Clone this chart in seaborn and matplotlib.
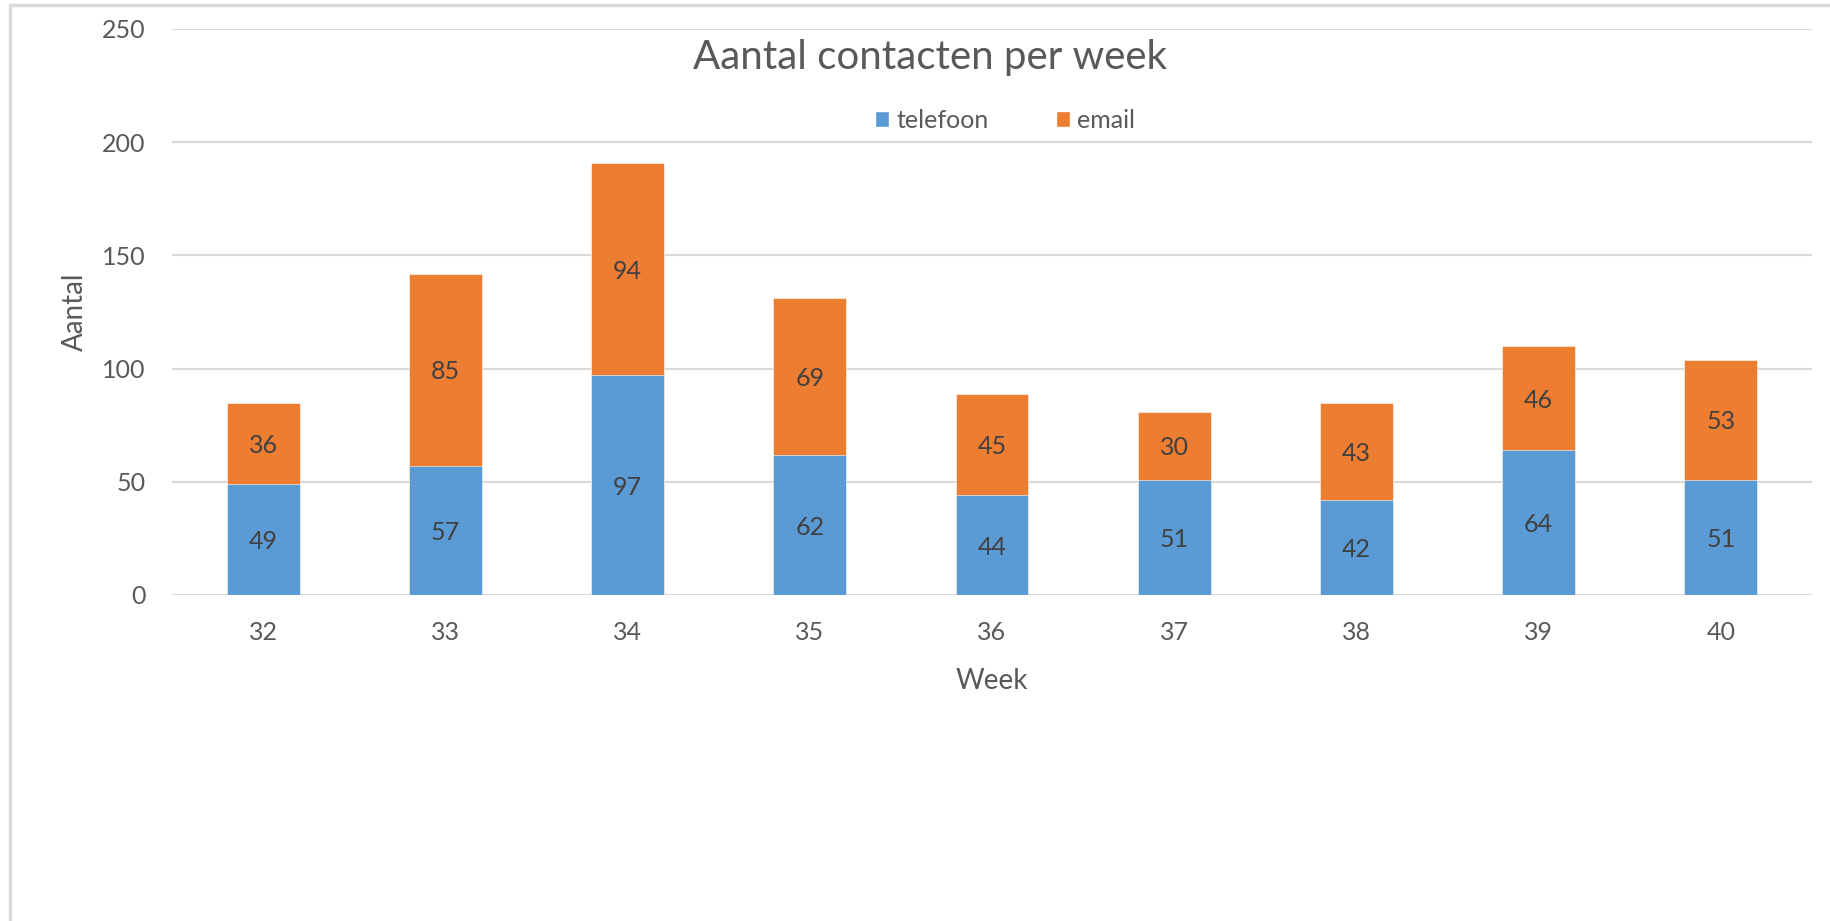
import matplotlib
matplotlib.use("Agg")
import matplotlib.pyplot as plt
from matplotlib.patches import Patch
from matplotlib.lines import Line2D
import seaborn as sns
import pandas as pd

# Data
weeks = ["32", "33", "34", "35", "36", "37", "38", "39", "40"]
telefoon = [49, 57, 97, 62, 44, 51, 42, 64, 51]
email = [36, 85, 94, 69, 45, 30, 43, 46, 53]

blue = "#5B9BD5"
orange = "#ED7D31"
grid_c = "#D9D9D9"
txt_c = "#595959"
lbl_c = "#404040"

sns.set_theme(style="white")
plt.rcParams["font.family"] = ["Lato", "DejaVu Sans"]

df = pd.DataFrame({"week": weeks, "telefoon": telefoon, "email": email})
df["totaal"] = df["telefoon"] + df["email"]

fig = plt.figure(figsize=(18.3, 9.21), dpi=100)
ax = fig.add_axes([172 / 1830, 1 - 595 / 921, 1640 / 1830, 566 / 921])

# gestapeld: eerst totaal (oranje), daarna telefoon (blauw) eroverheen
sns.barplot(data=df, x="week", y="totaal", color=orange, width=0.4,
            saturation=1, edgecolor="white", linewidth=0.4, ax=ax, zorder=3)
sns.barplot(data=df, x="week", y="telefoon", color=blue, width=0.4,
            saturation=1, edgecolor="white", linewidth=0.4, ax=ax, zorder=3)

# labels in het midden van elk segment
for i, (t, e) in enumerate(zip(df["telefoon"], df["email"])):
    ax.text(i, t / 2 - 1, str(t), ha="center", va="center", fontsize=18,
            color=lbl_c, zorder=4)
    ax.text(i, t + e / 2 - 1, str(e), ha="center", va="center", fontsize=18,
            color=lbl_c, zorder=4)

ax.set_ylim(0, 250)
ax.set_yticks(range(0, 251, 50))
ax.set_xlim(-0.5, len(weeks) - 0.5)
ax.yaxis.grid(True, color=grid_c, linewidth=1.5, zorder=0)
ax.set_axisbelow(True)
for s in ax.spines.values():
    s.set_visible(False)
ax.tick_params(axis="both", length=0, labelsize=18, labelcolor=txt_c)
ax.tick_params(axis="y", pad=19)
ax.tick_params(axis="x", pad=19)

ax.set_xlabel("Week", fontsize=20, color=txt_c)
ax.set_ylabel("Aantal", fontsize=20, color=txt_c)
ax.xaxis.label.set_va("center")
ax.yaxis.label.set_va("center")
ax.xaxis.set_label_coords(0.5, -0.152)
ax.yaxis.set_label_coords(-0.059, 0.5)

fig.text(930 / 1830, 1 - 58 / 921, "Aantal contacten per week", ha="center",
         va="center", fontsize=29, color=txt_c)

handles = [Patch(facecolor=blue, label="telefoon"),
           Patch(facecolor=orange, label="email")]
fig.legend(handles=handles, loc="center", bbox_to_anchor=(1005 / 1830, 1 - 120 / 921),
           ncol=2, frameon=False, fontsize=18, labelcolor=txt_c,
           handlelength=0.55, handleheight=0.6, handletextpad=0.3,
           columnspacing=2.7)

# kader rond de grafiek (links en boven zichtbaar)
fig.add_artist(Line2D([10 / 1830, 10 / 1830], [0, 1 - 5 / 921],
                      transform=fig.transFigure, color=grid_c, linewidth=2.5))
fig.add_artist(Line2D([10 / 1830, 1], [1 - 5 / 921, 1 - 5 / 921],
                      transform=fig.transFigure, color=grid_c, linewidth=2.5))

fig.savefig("out.png", dpi=100, facecolor="white")
